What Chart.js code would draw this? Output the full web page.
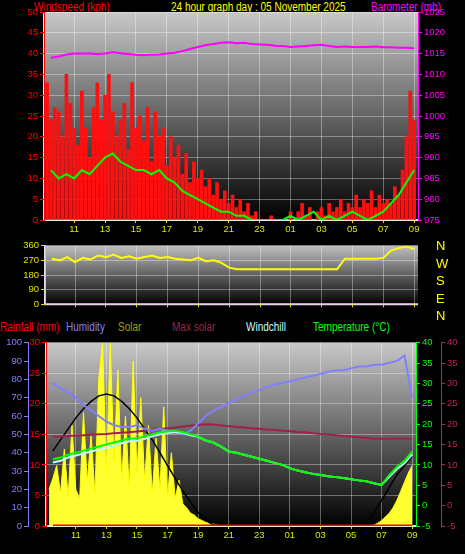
<!DOCTYPE html>
<html>
<head>
<meta charset="utf-8">
<script src="https://cdn.jsdelivr.net/npm/chart.js@4/dist/chart.umd.min.js"></script>
<style>
  body { margin: 0; background: #000; width: 465px; height: 554px; overflow: hidden; position: relative; font-family: "Liberation Sans", Arial, sans-serif; }
  canvas { position: absolute; left: 0; }
  .t { position: absolute; font-size: 12.5px; white-space: nowrap; line-height: 14px; transform: scaleX(0.8); transform-origin: left top; }
</style>
</head>
<body>
<div class="t" style="left:34px;top:0;color:#ff0000">Windspeed (kph)</div>
<div class="t" style="left:171px;top:0;color:#ffff00">24 hour graph day : 05 November 2025</div>
<div class="t" style="left:371px;top:0;color:#ff00ff">Barometer (mb)</div>
<canvas id="c1" width="465" height="236" style="top:0"></canvas>
<canvas id="c2" width="465" height="74" style="top:238px"></canvas>
<div class="t" style="left:436px;top:237px;color:#ffff00;font-size:13px;line-height:17.5px;transform:none">N<br>W<br>S<br>E<br>N</div>
<div class="t" style="left:0;top:320px;color:#ff0000">Rainfall (mm)</div>
<div class="t" style="left:66px;top:320px;color:#8080ff">Humidity</div>
<div class="t" style="left:118px;top:320px;color:#a0a000">Solar</div>
<div class="t" style="left:172px;top:320px;color:#a0204a">Max solar</div>
<div class="t" style="left:246px;top:320px;color:#c0ffff">Windchill</div>
<div class="t" style="left:313px;top:320px;color:#00ff00">Temperature (°C)</div>
<canvas id="c3" width="465" height="219" style="top:335px"></canvas>
<script>
// readings every 15 minutes from 09:15 (gust, solar) and every 30 minutes from 09:30 (the rest)
const gust = [
  33,24,27,26,20,35,28,22, 18,31,22,15,27,33,24,30,
  35,26,20,24,28,17,33,22, 25,19,27,14,26,20,22,13,
  20,15,18,11,16,9,14,10, 12,8,10,6,9,5,7,4,
  6,3,5,2,4,1,2,0, 0,0,1,0,0,0,0,2,
  0,2,4,1,3,0,2,3, 1,4,2,3,5,2,4,3,
  6,3,5,4,7,3,6,4, 5,4,8,6,12,20,31,24
];
const solar = [
  200,260,330,180,420,160,550,200, 150,620,240,500,180,800,1000,300,
  1000,350,850,250,600,200,900,280, 700,250,550,180,480,200,650,160,
  400,150,250,120,100,70,60,40, 30,20,15,10,5,0,0,0,
  0,0,0,0,0,0,0,0, 0,0,0,0,0,0,0,0,
  0,0,0,0,0,0,0,0, 0,0,0,0,0,0,0,0,
  0,0,0,0,0,5,15,30, 50,70,100,140,190,240,290,330
];
const avgWind = [12,10,11,10,12,11,13,15,16,14,13,12,12,11,12,10,9,7,6,5,4,3,2,2,1,1,0,0,0,0,0,1,0,1,2,0,1,0,1,2,1,0,1,2,4,6,9,12];
const baro = [1014,1014.3,1014.8,1015,1015,1015,1014.9,1015,1015.3,1015.1,1014.9,1014.7,1014.6,1014.7,1014.8,1015,1015.2,1015.6,1016.1,1016.6,1017,1017.3,1017.6,1017.7,1017.5,1017.6,1017.3,1017.2,1017.1,1016.9,1016.8,1016.6,1016.7,1016.8,1017,1017.1,1016.8,1016.6,1016.7,1016.6,1016.6,1016.6,1016.7,1016.5,1016.5,1016.4,1016.4,1016.3];
const windDir = [280,270,290,260,285,275,300,290,305,285,295,280,290,300,285,290,280,275,270,285,265,270,255,225,215,215,215,215,215,215,215,215,215,215,215,215,215,215,280,280,280,280,280,285,330,345,355,340];
const humidity = [78,75,73,70,66,63,60,57,55,54,54,55,53,52,53,52,51,50,52,56,60,63,65,67,69,71,73,74,76,77,78,79,80,81,82,83,84,85,85,86,87,87,88,88,89,90,93,70];
const temperature = [11.4,11.8,12.5,13,13.5,14,14.5,15,15.5,16,16.5,16.5,17,17.5,18,18.2,18.4,18,17.5,17,16,15.5,14.5,13.3,13,12.5,12,11.5,11,10.5,10,9.2,8.6,8.2,7.8,7.5,7.2,7,6.8,6.5,6.2,6,5.5,5.1,7.5,9.5,11,13.3];
const windchill = [10.6,11,11.8,12.3,12.8,13.3,13.8,14.2,14.7,15.3,15.8,15.9,16.4,17,17.5,17.8,18.1,17.8,17.3,16.9,16,15.5,14.5,13.3,13,12.5,12,11.5,11,10.5,10,9.2,8.6,8.2,7.8,7.5,7.2,7,6.8,6.5,6.2,6,5.5,5.1,7.1,9,10.4,12.6];
const indoor = [17,17,17.1,17.2,17.3,17.4,17.5,17.6,17.8,17.9,18,18.2,18.4,18.6,18.8,19,19.2,19.4,19.6,19.8,20,19.9,19.7,19.5,19.3,19.2,19,18.9,18.7,18.6,18.4,18.3,18.1,18,17.8,17.6,17.5,17.3,17.1,17,16.8,16.6,16.4,16.4,16.4,16.5,16.5,16.4];
const maxSolar = [410,470,530,590,640,680,710,720,710,680,640,590,530,470,400,330,260,190,130,75,30,5,0,0,0,0,0,0,0,0,0,0,0,0,0,0,0,0,0,0,5,20,70,140,210,280,330,380];
const rainfall = new Array(48).fill(0);
const hourTicks = [11,13,15,17,19,21,23,25,27,29,31,33];

const t15 = gust.map((v, i) => 9.25 + i * 0.25);
const t30 = avgWind.map((v, i) => 9.5 + i * 0.5);
const pts = (times, vals) => vals.map((v, i) => ({ x: times[i], y: v }));

const gridColor = 'rgba(255,255,255,0.35)';
const tickFont = { family: 'Liberation Sans', size: 9.5 };

const bgPlugin = {
  id: 'bg',
  beforeDraw(chart, args, opts) {
    const a = chart.chartArea, ctx = chart.ctx;
    const g = ctx.createLinearGradient(0, a.top, 0, a.bottom);
    g.addColorStop(0, opts.top || '#c8c8c8');
    g.addColorStop(1, '#000000');
    ctx.save();
    ctx.fillStyle = g;
    ctx.fillRect(a.left, a.top, a.right - a.left, a.bottom - a.top);
    ctx.strokeStyle = '#e0e0e0';
    ctx.lineWidth = 2;
    ctx.beginPath();
    ctx.moveTo(a.left, a.top); ctx.lineTo(a.left, a.bottom); ctx.lineTo(a.right, a.bottom);
    ctx.stroke();
    ctx.restore();
  }
};
Chart.register(bgPlugin);

function xScale(showLabels, h) {
  return {
    type: 'linear', min: 9.05, max: 33.25, offset: false,
    afterBuildTicks: s => { s.ticks = hourTicks.map(v => ({ value: v })); },
    afterFit: s => { s.height = h; },
    grid: { color: gridColor, borderDash: [1, 2], tickLength: 3, tickColor: '#e0e000', offset: false },
    border: { display: false },
    ticks: {
      display: showLabels, color: '#d8e800', font: tickFont, padding: 1, maxRotation: 0, autoSkip: false,
      callback: v => String(v % 24).padStart(2, '0')
    }
  };
}
function yAxis(pos, min, max, step, color, width, weight, grid) {
  return {
    position: pos, min, max, weight: weight || 0,
    afterFit: s => { s.width = width; },
    border: { color: color },
    grid: { drawOnChartArea: !!grid, color: gridColor, borderDash: [1, 2], tickColor: color, tickLength: 4 },
    ticks: { stepSize: step, color: color, font: tickFont, padding: 2, autoSkip: false, callback: v => String(v) }
  };
}
const lineDs = (label, data, color, axis, w) => ({
  type: 'line', label, data, borderColor: color, borderWidth: w || 2, pointRadius: 0, yAxisID: axis, tension: 0
});
const base = {
  animation: false, responsive: false, devicePixelRatio: 1, events: [],
  plugins: { legend: { display: false }, tooltip: { enabled: false } }
};

new Chart(document.getElementById('c1'), {
  type: 'bar',
  data: { datasets: [
    lineDs('Barometer', pts(t30, baro), '#ff00ff', 'y1'),
    lineDs('Average', pts(t30, avgWind), '#00ff00', 'y'),
    { type: 'bar', label: 'Gust', data: pts(t15, gust), backgroundColor: '#ff1010', barThickness: 3, yAxisID: 'y' }
  ]},
  options: { ...base,
    layout: { padding: { top: 12 } },
    scales: {
      x: xScale(true, 16),
      y: yAxis('left', 0, 50, 5, '#ff0000', 44, 0, true),
      y1: yAxis('right', 975, 1025, 5, '#ff00ff', 47)
    }
  }
});

new Chart(document.getElementById('c2'), {
  type: 'line',
  data: { datasets: [
    lineDs('Direction', pts(t30, windDir), '#ffff00', 'y'),
    lineDs('Zero', [{ x: 9.05, y: 0 }, { x: 33.25, y: 0 }], '#e090e0', 'y', 2)
  ]},
  options: { ...base,
    layout: { padding: { top: 5, right: 47 } },
    plugins: { ...base.plugins, bg: { top: '#c0c0c0' } },
    scales: {
      x: xScale(false, 5),
      y: yAxis('left', 0, 360, 90, '#e0e000', 45, 0, true)
    }
  }
});

new Chart(document.getElementById('c3'), {
  type: 'line',
  data: { datasets: [
    lineDs('Rainfall', pts(t30, rainfall), '#ff0000', 'rain', 3),
    lineDs('Temperature', pts(t30, temperature), '#00ff00', 'temp'),
    lineDs('Windchill', pts(t30, windchill), '#c0ffff', 'temp'),
    lineDs('Humidity', pts(t30, humidity), '#8080ff', 'hum'),
    lineDs('Indoor', pts(t30, indoor), '#a0204a', 'temp2'),
    lineDs('Max solar', pts(t30, maxSolar), '#000000', 'sol', 1.5),
    { ...lineDs('Solar', pts(t15, solar), '#ffff00', 'sol', 1), fill: 'origin', backgroundColor: '#ffff30' }
  ]},
  options: { ...base,
    layout: { padding: { top: 5 } },
    scales: {
      x: xScale(true, 28),
      hum: yAxis('left', 0, 100, 10, '#8080ff', 28, 2),
      rain: yAxis('left', 0, 30, 5, '#ff0000', 18, 1, true),
      sol: { display: false, min: 0, max: 1000 },
      temp: yAxis('right', -5, 40, 5, '#00ff00', 25, 1),
      temp2: yAxis('right', -5, 40, 5, '#c02060', 24, 2)
    }
  }
});
</script>
</body>
</html>
